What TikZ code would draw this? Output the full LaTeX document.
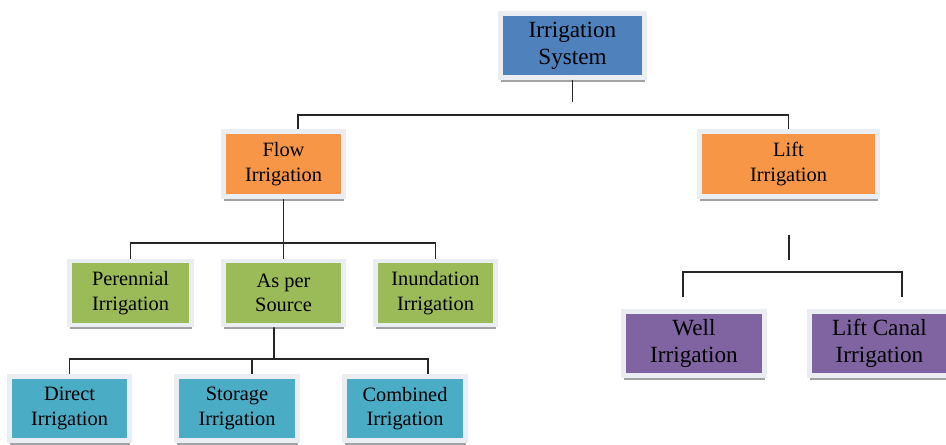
\documentclass[tikz,border=0pt]{standalone}
\usepackage{fontspec}
\setmainfont{Liberation Serif}
\newfontfamily\boxfont{Liberation Serif}
\usetikzlibrary{shadows}

\begin{document}
\begin{tikzpicture}[x=0.02cm, y=-0.02cm,
  box/.style={draw=frameCol, line width=2.8pt, fill=#1, text=black, align=center, inner sep=0pt,
    minimum width=2.4cm, minimum height=1.28cm, font=\boxfont\fontsize{11.6}{14}\selectfont,
    drop shadow={shadow xshift=0.4pt, shadow yshift=-2.3pt, fill=black!60, opacity=0.6}},
  bigtext/.style={font=\boxfont\fontsize{13.2}{15.4}\selectfont},
  conn/.style={draw=black!85, line width=1.1pt}]

% Colori
\definecolor{colTop}{HTML}{4F81BD}
\definecolor{colFlow}{HTML}{F79646}
\definecolor{colGreen}{HTML}{9BBB59}
\definecolor{colTeal}{HTML}{4BACC6}
\definecolor{colPurple}{HTML}{8064A2}
\definecolor{frameCol}{HTML}{EAEEF3}

\useasboundingbox (0,0) rectangle (946,444);

% Radice
\node[box=colTop, bigtext, minimum width=2.88cm] (sys) at (572.5,45.5) {Irrigation\\System};

% Primo livello
\node[box=colFlow, minimum height=1.3cm] (flow) at (283.5,164) {Flow\\Irrigation};
\node[box=colFlow, minimum width=3.56cm, minimum height=1.3cm] (lift) at (788.5,164) {Lift\\Irrigation};

% Secondo livello (flow)
\node[box=colGreen, minimum width=2.44cm] (per) at (130.5,293) {Perennial\\Irrigation};
\node[box=colGreen] (src) at (283.5,293) {As per\\Source};
\node[box=colGreen] (inu) at (435.5,293) {Inundation\\Irrigation};

% Terzo livello (as per source)
\node[box=colTeal] (dir) at (69.5,408.5) {Direct\\Irrigation};
\node[box=colTeal, minimum width=2.42cm] (stor) at (237,408.5) {Storage\\Irrigation};
\node[box=colTeal, minimum width=2.42cm] (comb) at (405,408.5) {Combined\\Irrigation};

% Secondo livello (lift)
\node[box=colPurple, bigtext, minimum width=2.82cm] (well) at (694,343.5) {Well\\Irrigation};
\node[box=colPurple, bigtext, minimum width=2.8cm] (canal) at (879.5,343.5) {Lift Canal\\Irrigation};

% Collegamenti
\coordinate (sysEnd) at (572.5,102);
\coordinate (sysBus) at (572.5,115);
\draw[conn] (sys.south) -- (sysEnd);
\draw[conn] ([xshift=0.29cm]flow.north) |- (sysBus) -| (lift.north);

\coordinate (flowBus) at (283.5,243);
\draw[conn] (flow) -- (src);
\draw[conn] (per.north) |- (flowBus) -| (inu.north);

\coordinate (srcBus) at (274,359);
\draw[conn] ([xshift=-0.19cm]src.south) -- (srcBus);
\draw[conn] (dir.north) |- (srcBus) -| ([xshift=0.46cm]comb.north);
\draw[conn] ([xshift=0.3cm]stor.north) |- (srcBus);

\coordinate (liftStubA) at (789,235);
\coordinate (liftStubB) at (789,260);
\coordinate (liftBus) at (789,272);
\coordinate (wellEnd) at (683,297);
\coordinate (canalEnd) at (902,297);
\draw[conn] (liftStubA) -- (liftStubB);
\draw[conn] (wellEnd) |- (liftBus) -| (canalEnd);

\end{tikzpicture}
\end{document}
